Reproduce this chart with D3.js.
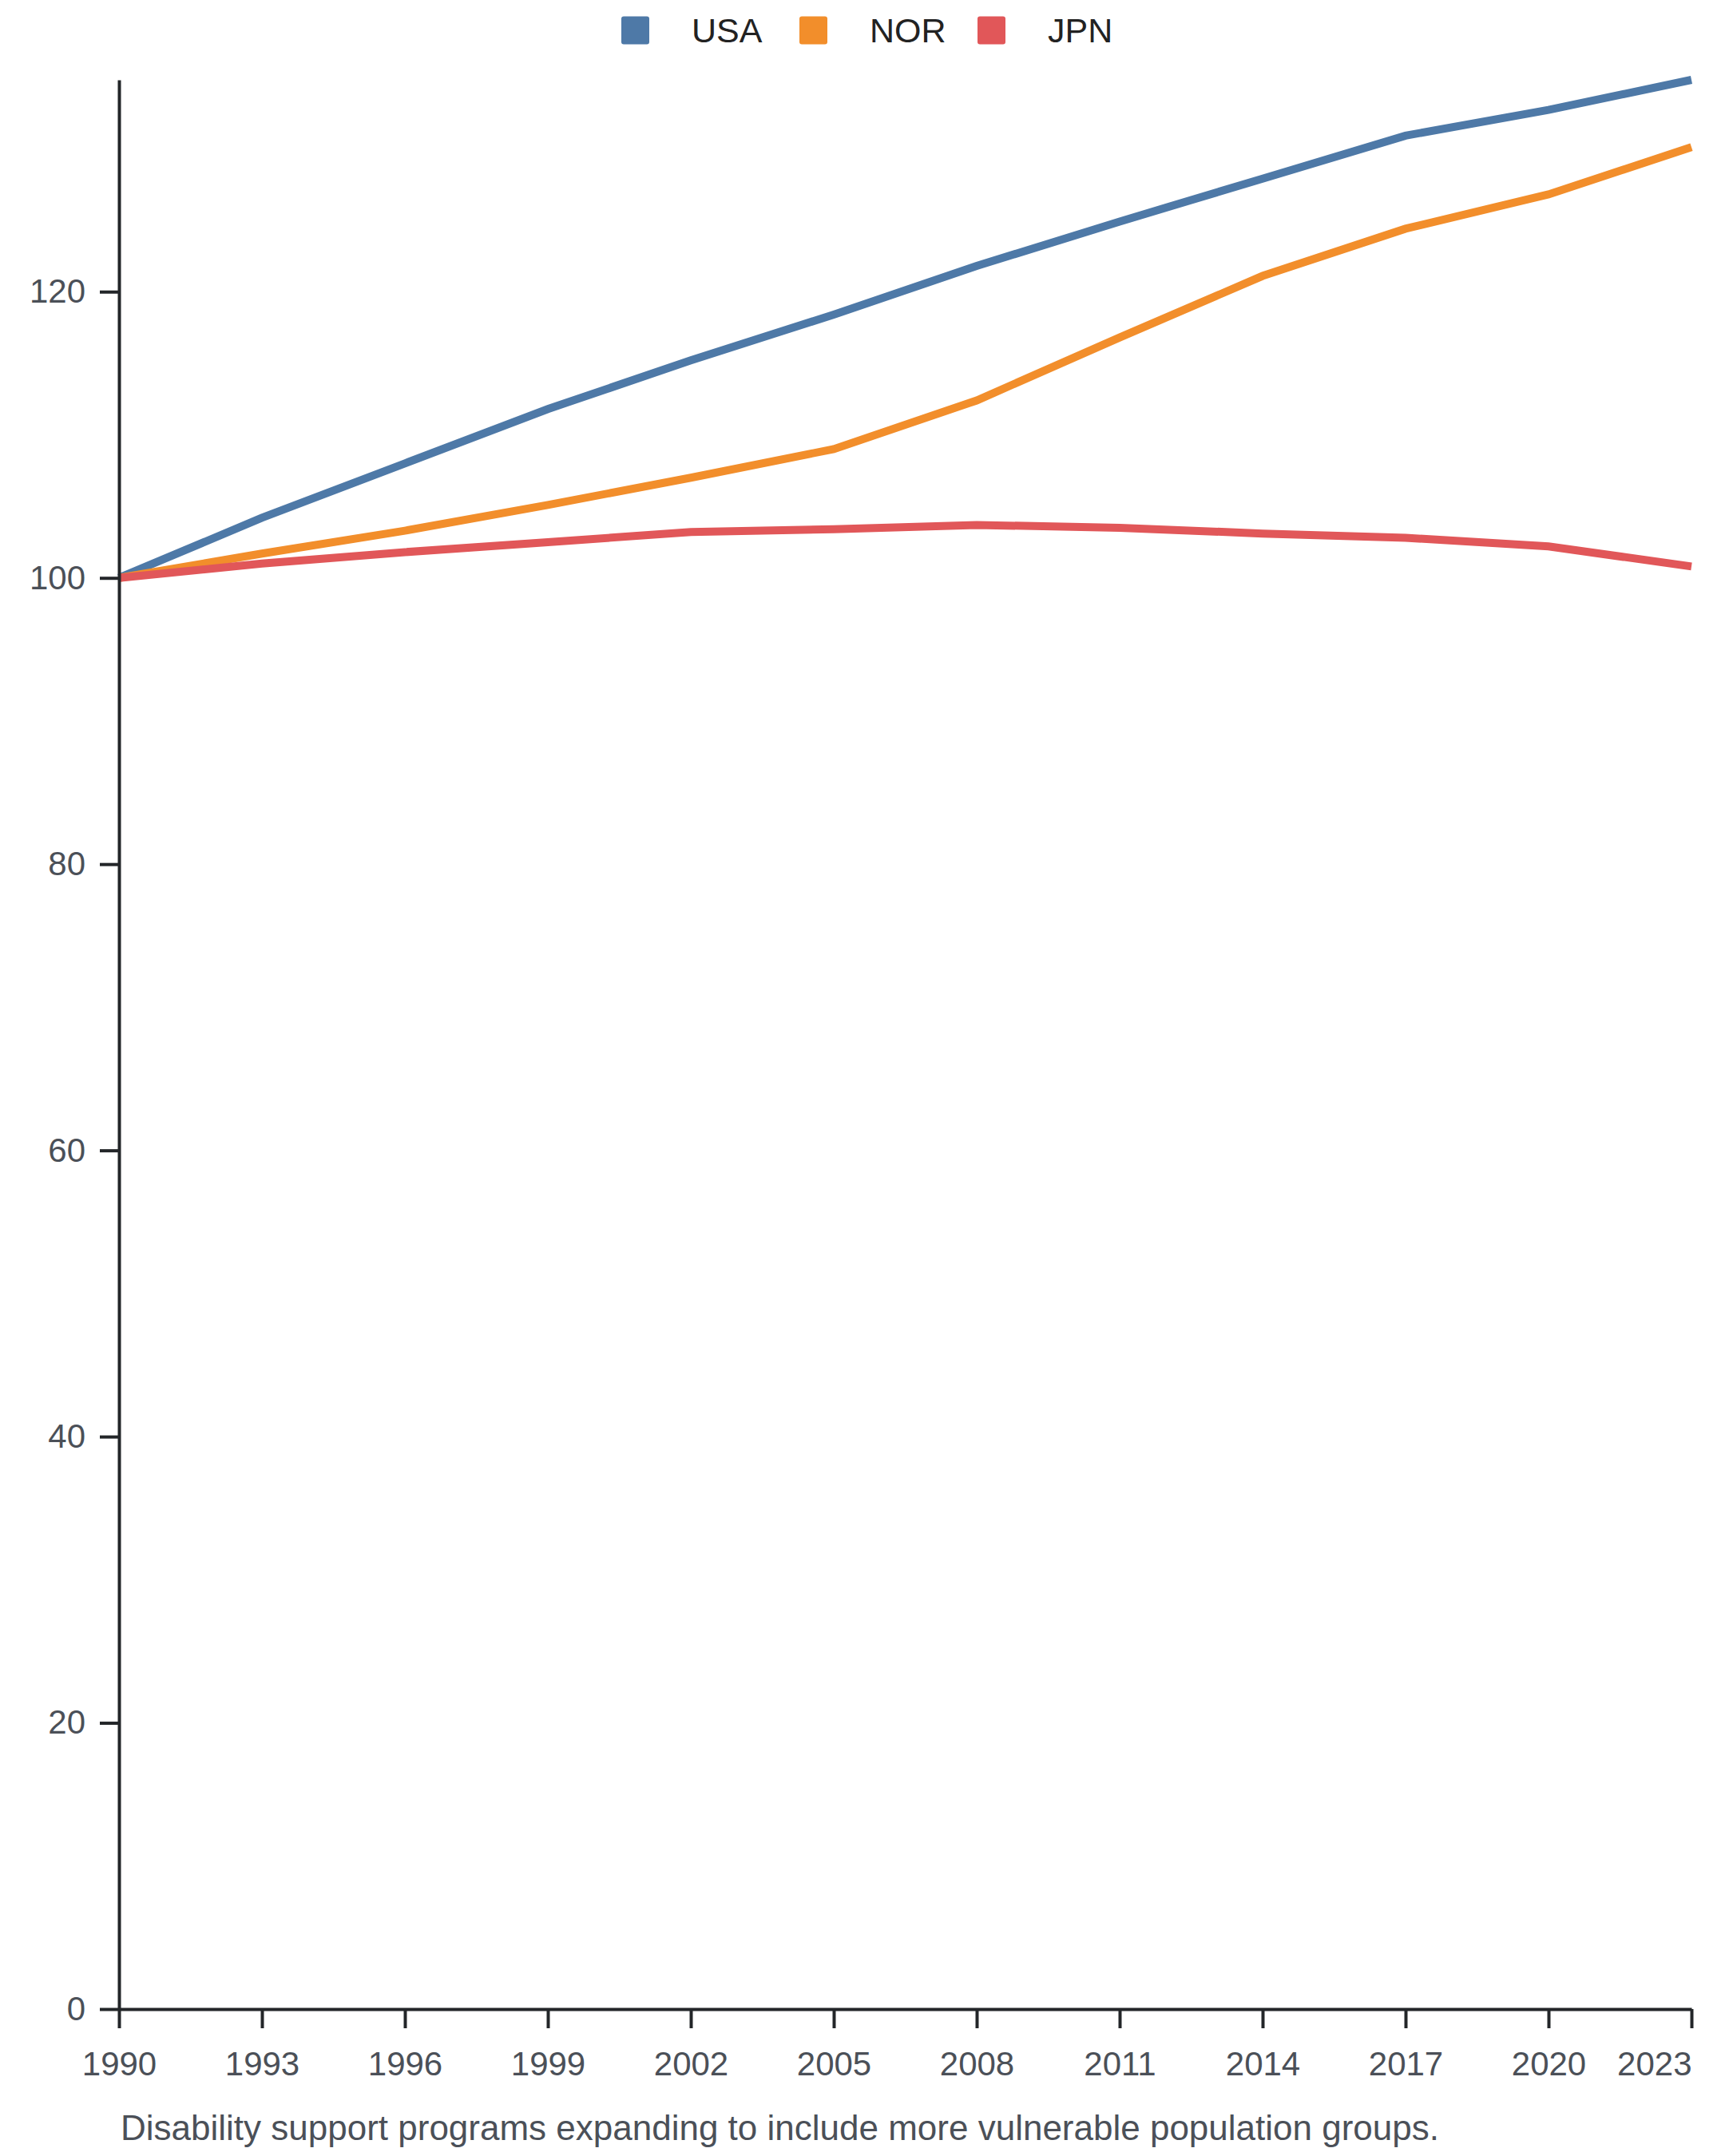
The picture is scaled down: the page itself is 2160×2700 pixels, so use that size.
<!DOCTYPE html>
<html>
<head>
<meta charset="utf-8">
<script src="https://cdn.jsdelivr.net/npm/d3@7"></script>
<style>
  html, body { margin: 0; padding: 0; background: #ffffff; }
  svg { display: block; font-family: "Liberation Sans", Arial, Helvetica, sans-serif; }
</style>
</head>
<body>
<svg id="chart" width="2160" height="2700"></svg>
<script>
// ---- data ----
const years = [1990, 1993, 1996, 1999, 2002, 2005, 2008, 2011, 2014, 2017, 2020, 2023];
const seriesNames = ["USA", "NOR", "JPN"];
const usaValues = [100, 104.2, 108.0, 111.8, 115.2, 118.4, 121.8, 124.9, 127.9, 130.9, 132.7, 134.8];
const norValues = [100, 101.7, 103.3, 105.1, 107.0, 109.0, 112.4, 116.8, 121.1, 124.4, 126.8, 130.1];
const jpnValues = [100, 101.0, 101.8, 102.5, 103.2, 103.4, 103.7, 103.5, 103.1, 102.8, 102.2, 100.8];
const yTickValues = [0, 20, 40, 60, 80, 100, 120];
const caption = "Disability support programs expanding to include more vulnerable population groups.";
const colors = ["#4e79a7", "#f28e2b", "#e15759"];

const series = [
  { name: seriesNames[0], values: usaValues, color: colors[0] },
  { name: seriesNames[1], values: norValues, color: colors[1] },
  { name: seriesNames[2], values: jpnValues, color: colors[2] }
];

// ---- layout ----
const W = 2160, H = 2700;
const margin = { top: 100, right: 42, bottom: 184, left: 149 };
const svg = d3.select("#chart");

const maxVal = d3.max(series, s => d3.max(s.values));
const x = d3.scaleLinear()
  .domain([years[0], years[years.length - 1]])
  .range([margin.left, W - margin.right]);
const y = d3.scaleLinear()
  .domain([0, maxVal])
  .range([H - margin.bottom, margin.top]);

const axisColor = "#232629";
const labelColor = "#4b5058";
const fontFam = "Liberation Sans, Arial, sans-serif";

// lines (drawn under axes)
const line = d3.line()
  .x((d, i) => x(years[i]))
  .y(d => y(d));

svg.append("g").selectAll("path.series")
  .data(series)
  .join("path")
  .attr("class", "series")
  .attr("fill", "none")
  .attr("stroke", d => d.color)
  .attr("stroke-width", 10)
  .attr("stroke-linejoin", "miter")
  .attr("stroke-linecap", "butt")
  .attr("d", d => line(d.values));

// x axis
const xAxis = svg.append("g")
  .attr("transform", `translate(0,${H - margin.bottom})`)
  .call(d3.axisBottom(x).tickValues(years).tickFormat(d3.format("d"))
    .tickSize(24).tickSizeOuter(0).tickPadding(29));
xAxis.select(".domain").attr("stroke", axisColor).attr("stroke-width", 4);
xAxis.selectAll(".tick line").attr("stroke", axisColor).attr("stroke-width", 4);
xAxis.selectAll(".tick text")
  .attr("fill", labelColor)
  .attr("font-size", 42)
  .attr("font-family", fontFam)
  .attr("text-anchor", (d, i) => i === years.length - 1 ? "end" : "middle");

// y axis
const yAxis = svg.append("g")
  .attr("transform", `translate(${margin.left},0)`)
  .call(d3.axisLeft(y).tickValues(yTickValues).tickSize(24).tickSizeOuter(0).tickPadding(18));
yAxis.select(".domain").attr("stroke", axisColor).attr("stroke-width", 4);
yAxis.selectAll(".tick line").attr("stroke", axisColor).attr("stroke-width", 4);
yAxis.selectAll(".tick text")
  .attr("fill", labelColor)
  .attr("font-size", 42)
  .attr("font-family", fontFam);

// legend
const legend = svg.append("g").attr("class", "legend");
const legendX0 = 778, legendStep = 223, legendY = 38, sq = 35;
const item = legend.selectAll("g.item")
  .data(series)
  .join("g")
  .attr("class", "item")
  .attr("transform", (d, i) => `translate(${legendX0 + i * legendStep},${legendY})`);
item.append("rect")
  .attr("x", 0).attr("y", -sq / 2)
  .attr("width", sq).attr("height", sq)
  .attr("rx", 3)
  .attr("fill", d => d.color);
item.append("text")
  .attr("x", 88)
  .attr("y", 0)
  .attr("dy", "0.36em")
  .attr("font-size", 43)
  .attr("font-family", fontFam)
  .attr("fill", "#222222")
  .text(d => d.name);

// caption
svg.append("text")
  .attr("x", 151)
  .attr("y", 2680)
  .attr("font-size", 44)
  .attr("font-family", fontFam)
  .attr("fill", labelColor)
  .text(caption);
</script>
</body>
</html>
